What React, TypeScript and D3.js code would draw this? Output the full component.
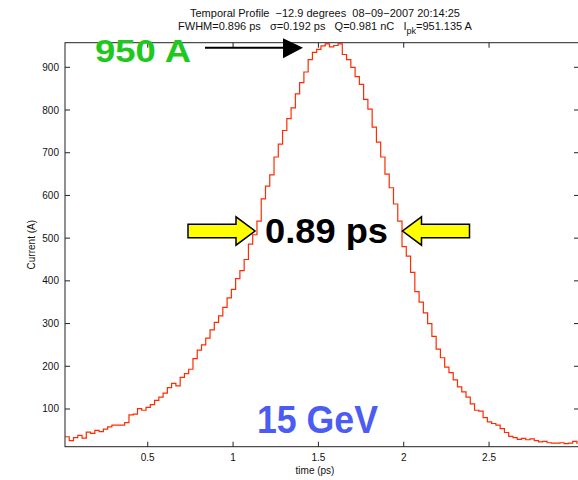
import { useEffect, useRef } from "react";
import * as d3 from "d3";

// histogram bins: start time and width in ps
const BIN_START = 0.015;
const BIN_WIDTH = 0.025;

// current per bin (A)
const currentValues = [
  35, 26, 33, 38, 32, 46, 43, 50, 47, 53,
  58, 62, 62, 62, 68, 86, 88, 101, 97, 104,
  110, 120, 128, 137, 150, 160, 154, 174, 183, 193,
  218, 238, 250, 266, 285, 303, 318, 338, 360, 380,
  405, 424, 450, 486, 508, 540, 592, 622, 648, 690,
  720, 752, 780, 805, 838, 864, 889, 918, 935, 942,
  950, 955, 948, 951, 955, 930, 918, 900, 878, 860,
  825, 802, 760, 725, 690, 650, 618, 580, 540, 480,
  458, 420, 375, 350, 325, 300, 270, 240, 220, 198,
  185, 168, 152, 140, 128, 112, 97, 95, 80, 70,
  66, 62, 54, 45, 36, 33, 29, 31, 28, 30,
  26, 23, 24, 21, 20, 20, 21, 19, 20, 24, 18,
];

const xTicks = [0.5, 1, 1.5, 2, 2.5];
const yTicks = [100, 200, 300, 400, 500, 600, 700, 800, 900];

const xDomain = [0.0152, 3.027];
const yDomain = [11.7, 957.6];

const W = 578;
const H = 480;
const plot = { left: 65, top: 42.7, right: 579, bottom: 446.7 };
const FONT = "'Liberation Sans', Arial, sans-serif";

const App = () => {
  const svgRef = useRef<SVGSVGElement | null>(null);

  useEffect(() => {
    if (!svgRef.current) return;
    const svg = d3.select(svgRef.current);
    svg.selectAll("*").remove();

    const x = d3.scaleLinear().domain(xDomain).range([plot.left, plot.right]);
    const y = d3.scaleLinear().domain(yDomain).range([plot.bottom, plot.top]);

    const pts = currentValues.map((v, i) => [BIN_START + i * BIN_WIDTH, v] as [number, number]);

    svg
      .append("defs")
      .append("clipPath")
      .attr("id", "plotclip")
      .append("rect")
      .attr("x", plot.left)
      .attr("y", plot.top - 1)
      .attr("width", plot.right - plot.left)
      .attr("height", plot.bottom - plot.top + 1);

    // profile
    const line = d3
      .line<[number, number]>()
      .x((d) => x(d[0]))
      .y((d) => y(d[1]))
      .curve(d3.curveStepAfter);

    svg
      .append("path")
      .datum(pts)
      .attr("clip-path", "url(#plotclip)")
      .attr("fill", "none")
      .attr("stroke", "#ff2a00")
      .attr("stroke-width", 1.2)
      .attr("d", line);

    // frame
    const axisColor = "#222";
    svg
      .append("rect")
      .attr("x", plot.left)
      .attr("y", plot.top)
      .attr("width", plot.right - plot.left)
      .attr("height", plot.bottom - plot.top)
      .attr("fill", "none")
      .attr("stroke", axisColor)
      .attr("stroke-width", 1);

    const tk = 5;
    const g = svg.append("g").attr("stroke", axisColor).attr("stroke-width", 1);
    xTicks.forEach((t) => {
      g.append("line").attr("x1", x(t)).attr("x2", x(t)).attr("y1", plot.bottom).attr("y2", plot.bottom - tk);
      g.append("line").attr("x1", x(t)).attr("x2", x(t)).attr("y1", plot.top).attr("y2", plot.top + tk);
    });
    yTicks.forEach((t) => {
      g.append("line").attr("x1", plot.left).attr("x2", plot.left + tk).attr("y1", y(t)).attr("y2", y(t));
      g.append("line").attr("x1", plot.right).attr("x2", plot.right - tk).attr("y1", y(t)).attr("y2", y(t));
    });

    const fmt = d3.format("");
    svg
      .append("g")
      .selectAll("text")
      .data(xTicks)
      .join("text")
      .attr("x", (d) => x(d))
      .attr("y", plot.bottom + 14)
      .attr("text-anchor", "middle")
      .attr("font-family", FONT)
      .attr("font-size", 10)
      .attr("fill", "#111")
      .text((d) => fmt(d));

    svg
      .append("g")
      .selectAll("text")
      .data(yTicks)
      .join("text")
      .attr("x", plot.left - 6)
      .attr("y", (d) => y(d))
      .attr("dy", "0.35em")
      .attr("text-anchor", "end")
      .attr("font-family", FONT)
      .attr("font-size", 10)
      .attr("fill", "#111")
      .text((d) => fmt(d));

    svg
      .append("text")
      .attr("x", (plot.left + plot.right) / 2 - 7)
      .attr("y", 474)
      .attr("text-anchor", "middle")
      .attr("font-family", FONT)
      .attr("font-size", 10)
      .attr("fill", "#111")
      .text("time (ps)");

    svg
      .append("text")
      .attr("transform", `translate(35,${(plot.top + plot.bottom) / 2}) rotate(-90)`)
      .attr("text-anchor", "middle")
      .attr("font-family", FONT)
      .attr("font-size", 10)
      .attr("fill", "#111")
      .text("Current (A)");

    // title
    svg
      .append("text")
      .attr("x", 325)
      .attr("y", 17)
      .attr("text-anchor", "middle")
      .attr("font-family", FONT)
      .attr("font-size", 11)
      .attr("fill", "#111")
      .style("white-space", "pre")
      .text("Temporal Profile  \u221212.9 degrees  08\u221209\u22122007 20:14:25");

    const t2 = svg
      .append("text")
      .attr("x", 325)
      .attr("y", 30)
      .attr("text-anchor", "middle")
      .attr("font-family", FONT)
      .attr("font-size", 11)
      .attr("fill", "#111")
      .style("white-space", "pre");
    t2.append("tspan").text("FWHM=0.896 ps   \u03c3=0.192 ps   Q=0.981 nC   I");
    t2.append("tspan").attr("dy", 4).attr("font-size", 9).text("pk");
    t2.append("tspan").attr("dy", -4).text("=951.135 A");

    // annotations
    svg
      .append("text")
      .attr("x", 95)
      .attr("y", 62.3)
      .attr("font-family", FONT)
      .attr("font-weight", "bold")
      .attr("font-size", 31)
      .attr("textLength", 96)
      .attr("lengthAdjust", "spacingAndGlyphs")
      .attr("fill", "#1fc81f")
      .text("950 A");

    svg
      .append("line")
      .attr("x1", 205)
      .attr("x2", 285)
      .attr("y1", 47.7)
      .attr("y2", 47.7)
      .attr("stroke", "#000")
      .attr("stroke-width", 2);
    svg
      .append("path")
      .attr("d", "M283,38.3 L303,47.7 L283,58.3 Z")
      .attr("fill", "#000");

    svg
      .append("text")
      .attr("x", 265)
      .attr("y", 242.7)
      .attr("font-family", FONT)
      .attr("font-weight", "bold")
      .attr("font-size", 35)
      .attr("textLength", 123)
      .attr("lengthAdjust", "spacingAndGlyphs")
      .attr("fill", "#000")
      .text("0.89 ps");

    const cy = 231;
    const arrow = (tip: number, dir: number) => {
      // dir = 1 pointing right, -1 pointing left
      const headBase = tip - dir * 19;
      const tail = tip - dir * 67;
      return `M${tail},${cy - 6.7} L${headBase},${cy - 6.7} L${headBase},${cy - 14.2} L${tip},${cy} L${headBase},${cy + 14.2} L${headBase},${cy + 6.7} L${tail},${cy + 6.7} Z`;
    };
    svg
      .append("path")
      .attr("d", arrow(255, 1))
      .attr("fill", "#ffff00")
      .attr("stroke", "#000")
      .attr("stroke-width", 1.5)
      .attr("stroke-linejoin", "miter");
    svg
      .append("path")
      .attr("d", arrow(402.5, -1))
      .attr("fill", "#ffff00")
      .attr("stroke", "#000")
      .attr("stroke-width", 1.5)
      .attr("stroke-linejoin", "miter");

    svg
      .append("text")
      .attr("x", 257)
      .attr("y", 433.3)
      .attr("font-family", FONT)
      .attr("font-weight", "bold")
      .attr("font-size", 39)
      .attr("textLength", 121)
      .attr("lengthAdjust", "spacingAndGlyphs")
      .attr("fill", "#4b5cf2")
      .text("15 GeV");
  }, []);

  return (
    <svg
      ref={svgRef}
      width={W}
      height={H}
      style={{ position: "absolute", left: 0, top: 0, background: "#fff" }}
    />
  );
};

export default App;
